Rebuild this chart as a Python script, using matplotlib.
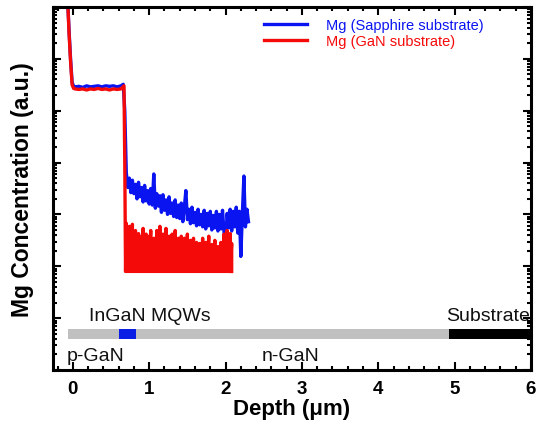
import numpy as np
import matplotlib
matplotlib.use('Agg')
import matplotlib.pyplot as plt
from matplotlib.ticker import MultipleLocator, LogLocator, NullFormatter

plt.rcParams['font.family'] = ['Liberation Sans', 'DejaVu Sans']

# SIMS profile, concentration given as log10 of arbitrary units
blue_depth = [-0.07, -0.05, -0.03, -0.01, 0.01, 0.03, 0.08, 0.13, 0.18, 0.23, 0.28,
              0.33, 0.38, 0.43, 0.48, 0.53, 0.58, 0.63, 0.66, 0.68,
              0.70, 0.72, 0.74, 0.76, 0.78, 0.80, 0.82, 0.84, 0.86, 0.88,
              0.90, 0.92, 0.94, 0.96, 0.98, 1.00, 1.02, 1.04, 1.06, 1.08,
              1.10, 1.12, 1.14, 1.16, 1.18, 1.20, 1.22, 1.24, 1.26, 1.28,
              1.30, 1.32, 1.34, 1.36, 1.38, 1.40, 1.42, 1.44, 1.46, 1.48,
              1.50, 1.52, 1.54, 1.56, 1.58, 1.60, 1.62, 1.64, 1.66, 1.68,
              1.70, 1.72, 1.74, 1.76, 1.78, 1.80, 1.82, 1.84, 1.86, 1.88,
              1.90, 1.92, 1.94, 1.96, 1.98, 2.00, 2.02, 2.04, 2.06, 2.08,
              2.10, 2.12, 2.14, 2.16, 2.18, 2.20, 2.22, 2.24, 2.26, 2.28, 2.30]
blue_log = [7.2, 6.55, 6.0, 5.55, 5.47, 5.46, 5.47, 5.45, 5.48, 5.46, 5.47,
            5.48, 5.46, 5.48, 5.47, 5.48, 5.46, 5.48, 5.51, 5.0,
            3.80, 3.52, 3.70, 3.42, 3.66, 3.40, 3.58, 3.30, 3.62, 3.34,
            3.52, 3.24, 3.56, 3.26, 3.46, 3.20, 3.50, 3.18, 3.78, 3.12,
            3.40, 3.16, 3.36, 3.04, 3.38, 3.08, 3.28, 3.00, 3.34, 3.02,
            3.22, 2.96, 3.28, 2.94, 3.18, 2.92, 3.22, 2.86, 3.14, 3.46,
            2.90, 3.10, 2.82, 3.14, 2.84, 3.04, 2.78, 3.10, 2.80, 3.00,
            2.76, 3.08, 2.72, 3.02, 2.78, 3.06, 2.70, 2.98, 2.74, 3.06,
            2.68, 3.00, 2.72, 3.08, 2.66, 2.38, 3.02, 2.74, 3.10, 2.68,
            3.06, 2.76, 3.14, 2.64, 3.06, 2.19, 3.02, 3.74, 2.76, 3.10, 2.86]

red_depth = [-0.07, -0.05, -0.03, -0.01, 0.01, 0.03, 0.08, 0.13, 0.18, 0.23, 0.28,
             0.33, 0.38, 0.43, 0.48, 0.53, 0.58, 0.63, 0.67, 0.68, 0.69]
red_log = [7.2, 6.5, 5.95, 5.5, 5.43, 5.42, 5.41, 5.42, 5.40, 5.42, 5.41,
           5.43, 5.41, 5.42, 5.40, 5.42, 5.41, 5.42, 5.48, 4.0, 1.90]

# noisy part of the GaN-substrate profile: peaks above the detection floor
red_floor_log = 1.90
red_noise_depth = [0.70, 0.72, 0.74, 0.76, 0.78, 0.80, 0.82, 0.84, 0.86, 0.88,
                   0.90, 0.92, 0.94, 0.96, 0.98, 1.00, 1.02, 1.04, 1.06, 1.08,
                   1.10, 1.12, 1.14, 1.16, 1.18, 1.20, 1.22, 1.24, 1.26, 1.28,
                   1.30, 1.32, 1.34, 1.36, 1.38, 1.40, 1.42, 1.44, 1.46, 1.48,
                   1.50, 1.52, 1.54, 1.56, 1.58, 1.60, 1.62, 1.64, 1.66, 1.68,
                   1.70, 1.72, 1.74, 1.76, 1.78, 1.80, 1.82, 1.84, 1.86, 1.88,
                   1.90, 1.92, 1.94, 1.96, 1.98, 2.00, 2.02, 2.04, 2.06, 2.08]
red_noise_log = [2.83, 2.15, 2.77, 2.35, 2.81, 2.54, 2.69, 2.25, 2.63, 2.44,
                 2.58, 2.73, 2.50, 2.62, 2.35, 2.58, 2.69, 2.44, 2.54, 2.25,
                 2.69, 2.44, 2.77, 2.50, 2.62, 2.35, 2.73, 2.44, 2.58, 2.31,
                 2.62, 2.46, 2.69, 2.38, 2.54, 2.25, 2.58, 2.42, 2.54, 2.31,
                 2.62, 2.38, 2.50, 2.23, 2.54, 2.35, 2.46, 2.19, 2.44, 2.31,
                 2.54, 2.27, 2.46, 2.35, 2.58, 2.23, 2.42, 2.35, 2.50, 2.19,
                 2.38, 2.31, 2.46, 2.23, 2.62, 2.35, 2.69, 2.38, 2.63, 2.44]

# layer structure bar (depth ranges in um)
layer_gan = (-0.06, 4.98)
layer_mqw = (0.60, 0.23)
layer_sub = (4.92, 1.08)
bar_log = (0.60, 0.79)

fig = plt.figure(figsize=(5.43, 4.31), dpi=100)
ax = fig.add_axes([53 / 543, 1 - 371 / 431, 478 / 543, 363 / 431])

ax.plot(blue_depth, 10 ** np.array(blue_log), color='#0a14f0', lw=2.4,
        label='Mg (Sapphire substrate)')

# interleave peaks with the floor so the trace swings like the measured noise
rx = np.repeat(red_noise_depth, 2)
ry = np.empty(2 * len(red_noise_log))
ry[0::2] = red_noise_log
ry[1::2] = red_floor_log
red_x = np.concatenate([red_depth, rx])
red_y = np.concatenate([red_log, ry])
ax.plot(red_x, 10 ** red_y, color='#f50a0a', lw=2.4,
        label='Mg (GaN substrate)')

ylo, yhi = 10 ** bar_log[0], 10 ** bar_log[1]
ax.broken_barh([layer_gan], (ylo, yhi - ylo), color='#c0c0c0', lw=0)
ax.broken_barh([layer_mqw], (ylo, yhi - ylo), color='#0a1ee6', lw=0)
ax.broken_barh([layer_sub], (ylo, yhi - ylo), color='black', lw=0)

txt = dict(fontsize=14, va='center', color='#111111')
ax.text(0.21, 10 ** 1.06, 'InGaN MQWs', ha='left', **txt)
ax.text(5.99, 10 ** 1.06, 'Substrate', ha='right', **txt)
ax.text(-0.08, 10 ** 0.27, 'p-GaN', ha='left', **txt)
ax.text(2.47, 10 ** 0.27, 'n-GaN', ha='left', **txt)

ax.set_yscale('log')
ax.set_xlim(-0.26, 6.0)
ax.set_ylim(1, 1e7)

ax.xaxis.set_major_locator(MultipleLocator(1))
ax.xaxis.set_minor_locator(MultipleLocator(0.2))
ax.yaxis.set_major_locator(LogLocator(base=10, numticks=20))
ax.yaxis.set_minor_locator(LogLocator(base=10, subs=np.arange(2, 10), numticks=20))
ax.yaxis.set_major_formatter(NullFormatter())
ax.yaxis.set_minor_formatter(NullFormatter())

ax.tick_params(which='both', direction='in', top=True, right=True, width=1.5)
ax.tick_params(which='major', length=6)
ax.tick_params(which='minor', length=3)
ax.tick_params(axis='x', labelsize=13.5, pad=7)
for lab in ax.get_xticklabels():
    lab.set_fontweight('bold')
for sp in ax.spines.values():
    sp.set_linewidth(2.2)

ax.set_xlabel('Depth (\u03bcm)', fontsize=16, fontweight='bold', labelpad=1)
ax.set_ylabel('Mg Concentration (a.u.)', fontsize=16.5, fontweight='bold', labelpad=10)

leg = ax.legend(loc='upper left', bbox_to_anchor=(0.43, 0.985), frameon=False,
                fontsize=10.5, handlelength=2.9, handletextpad=1.3,
                labelspacing=0.15, labelcolor='linecolor', borderaxespad=0)

fig.savefig('out.png', dpi=100)
